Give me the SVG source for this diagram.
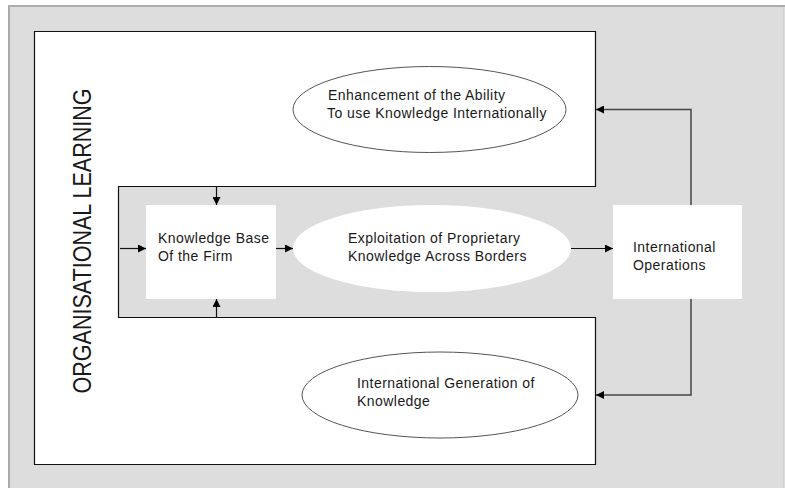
<svg xmlns="http://www.w3.org/2000/svg" width="785" height="488" viewBox="0 0 785 488">
  <style>
    .lbl { font-family: "Liberation Sans", Arial, sans-serif; font-size: 14px; letter-spacing: 0.45px; fill: #1a1a1a; }
    .big { font-family: "Liberation Sans", Arial, sans-serif; font-size: 25px; fill: #1a1a1a; }
    .conn { fill: none; stroke: #111; stroke-width: 1.2; }
    .loop { fill: none; stroke: #444; stroke-width: 1.5; }
    .box { fill: #fff; stroke: none; }
    .oval { fill: #fff; stroke: #555; stroke-width: 1; }
  </style>
  <defs>
    <marker id="arrow" viewBox="0 0 10 10" refX="10" refY="5" markerWidth="8" markerHeight="8" markerUnits="userSpaceOnUse" orient="auto">
      <path d="M0,0 L10,5 L0,10 Z" fill="#000"/>
    </marker>
  </defs>

  <!-- canvas -->
  <rect x="0" y="0" width="785" height="488" fill="#fff"/>
  <rect x="9" y="6" width="776" height="490" fill="#dddddd"/>
  <path d="M9,496 V6 H785" fill="none" stroke="#ababab" stroke-width="2"/>
  <line x1="783.5" y1="7" x2="783.5" y2="488" stroke="#d2d2d2" stroke-width="1"/>

  <!-- organisational learning frame (C-shaped) -->
  <g id="organisational-learning">
    <path d="M34.5,31.5 H595.5 V186.5 H118.5 V317.5 H595.5 V464.5 H34.5 Z" fill="#fff" stroke="#111" stroke-width="1.2"/>
    <text class="big" transform="translate(91,241) rotate(-90)" text-anchor="middle" textLength="305" lengthAdjust="spacingAndGlyphs">ORGANISATIONAL LEARNING</text>
  </g>

  <g id="enhancement">
    <ellipse class="oval" cx="429.5" cy="109.5" rx="136.5" ry="43"/>
    <text class="lbl" x="328" y="100">Enhancement of the Ability</text>
    <text class="lbl" x="327" y="118">To use Knowledge Internationally</text>
  </g>

  <g id="knowledge-base">
    <rect class="box" x="146" y="205" width="130" height="94"/>
    <text class="lbl" x="158" y="243">Knowledge Base</text>
    <text class="lbl" x="158" y="261">Of the Firm</text>
  </g>

  <g id="exploitation">
    <ellipse cx="432" cy="248.5" rx="139" ry="43.5" fill="#fff"/>
    <text class="lbl" x="348" y="243">Exploitation of Proprietary</text>
    <text class="lbl" x="348" y="261">Knowledge Across Borders</text>
  </g>

  <g id="international-operations">
    <rect class="box" x="613" y="205" width="129" height="94"/>
    <text class="lbl" x="633" y="252">International</text>
    <text class="lbl" x="633" y="270">Operations</text>
  </g>

  <g id="international-generation">
    <ellipse class="oval" cx="440" cy="395" rx="138" ry="43"/>
    <text class="lbl" x="357" y="388">International Generation of</text>
    <text class="lbl" x="357" y="406">Knowledge</text>
  </g>

  <g id="connectors">
    <line class="conn" x1="120" y1="248.5" x2="146" y2="248.5" marker-end="url(#arrow)"/>
    <line class="conn" x1="216.5" y1="187" x2="216.5" y2="205" marker-end="url(#arrow)"/>
    <line class="conn" x1="216.5" y1="317" x2="216.5" y2="299" marker-end="url(#arrow)"/>
    <line class="conn" x1="276" y1="248.5" x2="293" y2="248.5" marker-end="url(#arrow)"/>
    <line class="conn" x1="571" y1="248.5" x2="613" y2="248.5" marker-end="url(#arrow)"/>
    <polyline class="loop" points="691,205 691,109.5 596,109.5" marker-end="url(#arrow)"/>
    <polyline class="loop" points="691,299 691,395 596,395" marker-end="url(#arrow)"/>
  </g>
</svg>
